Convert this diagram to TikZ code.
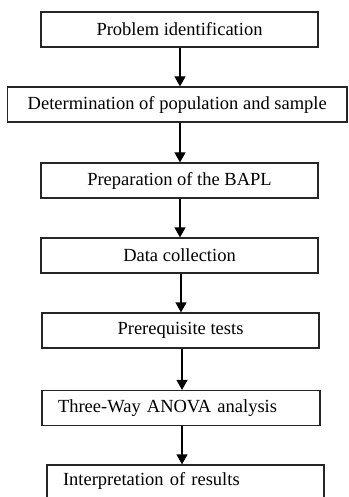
\documentclass[tikz,border=0pt]{standalone}
\usepackage{fontspec}
\setmainfont{Liberation Serif}
\usetikzlibrary{arrows.meta}
\begin{document}
\begin{tikzpicture}[x=1pt,y=1pt,
  stepbox/.style={draw=black!85,line width=1.2pt,minimum height=35pt,inner sep=0pt,
    font=\fontsize{18.5}{20}\selectfont},
  leftbox/.style={stepbox,inner xsep=16pt,align=left},
  arr/.style={draw=black,line width=1.2pt,-{Triangle[length=10pt,width=11pt]}}]
\useasboundingbox (0,0) rectangle (348,-497);
\clip (0,0) rectangle (348,-497);
\node[stepbox,minimum width=277pt] (b1) at (179.5,-29.5) {Problem identification};
\node[stepbox,minimum width=339.5pt] (b2) at (177.25,-104.5) {Determination of population and sample};
\node[stepbox,minimum width=277pt] (b3) at (179.5,-180.5) {Preparation of the BAPL};
\node[stepbox,minimum width=277pt] (b4) at (179.5,-255.5) {Data collection};
\node[stepbox,minimum width=277pt] (b5) at (180.5,-330.5) {Prerequisite tests};
\node[leftbox,text width=246pt] (b6) at (181,-408) {Three-Way ANOVA analysis};
\node[leftbox,text width=245pt,minimum height=40pt,text depth=12pt] (b7) at (185.5,-485) {Interpretation of results};
\draw[arr] ([xshift=0.5pt]b1.south) -- ([xshift=0.5pt]b1.south |- b2.north);
\draw[arr] ([xshift=0.5pt]b1.south |- b2.south) -- ([xshift=0.5pt]b1.south |- b3.north);
\draw[arr] ([xshift=0.5pt]b3.south) -- ([xshift=0.5pt]b4.north);
\draw[arr] ([xshift=1.5pt]b4.south) -- ([xshift=1.5pt]b4.south |- b5.north);
\draw[arr] ([xshift=1.5pt]b5.south) -- ([xshift=1.5pt]b5.south |- b6.north);
\draw[arr] ([xshift=1pt]b6.south) -- ([xshift=1pt]b6.south |- b7.north);
\end{tikzpicture}
\end{document}
